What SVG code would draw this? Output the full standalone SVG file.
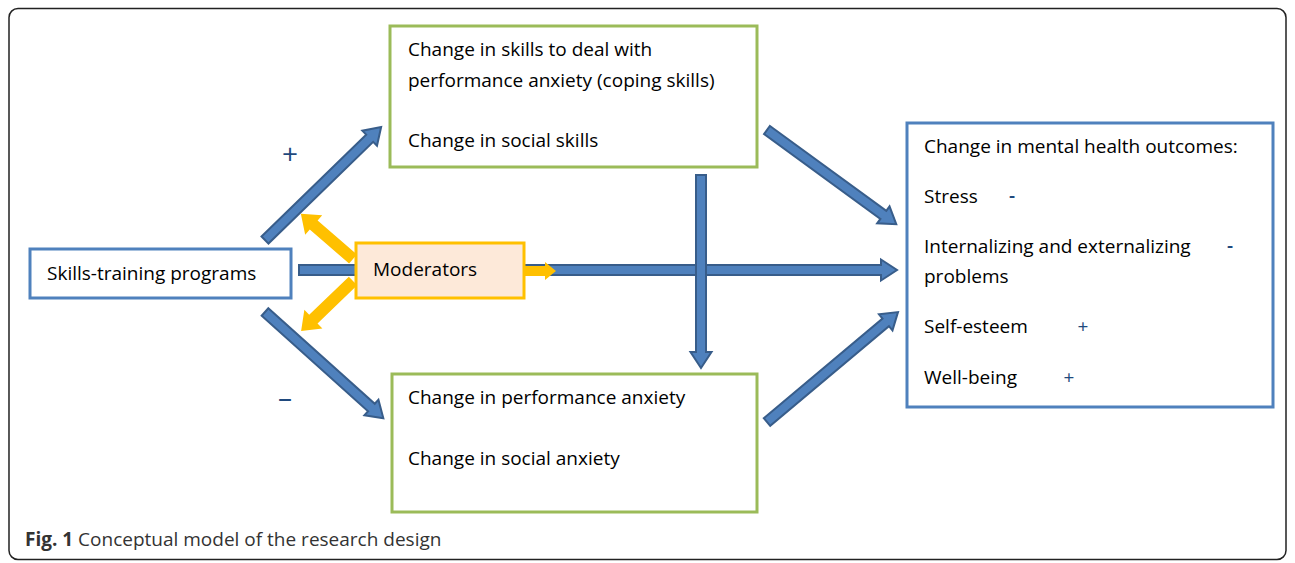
<svg xmlns="http://www.w3.org/2000/svg" width="1295" height="563" viewBox="0 0 1295 563">
<style>
.t{font-family:"Open Sans","Liberation Sans",sans-serif;font-size:19px;fill:#000}
.sign{font-family:"Open Sans","Liberation Sans",sans-serif;font-size:19px;fill:#1F497D;text-anchor:middle;font-weight:600}
.ba{fill:#4F81BD;stroke:#385D8A;stroke-width:2;stroke-linejoin:miter}
.ya{fill:#FFC000;stroke:none}
.gbox{fill:#fff;stroke:#9BBB59;stroke-width:3}
.bbox{fill:#fff;stroke:#4F81BD;stroke-width:3}
</style>
<rect x="9" y="8.5" width="1277" height="551" rx="9" fill="#fff" stroke="#222" stroke-width="1.5"/>
<g id="connectors">
<polygon class="ba" transform="translate(299,270)" points="0,-5 582,-5 582,-10.5 598,0 582,10.5 582,5 0,5"/>
<polygon class="ba" transform="translate(701,175) rotate(90)" points="0,-5 177,-5 177,-10.5 193,0 177,10.5 177,5 0,5"/>
<polygon class="ba" transform="translate(265,240) rotate(-44.2)" points="0,-5 146,-5 146,-10.5 162,0 146,10.5 146,5 0,5"/>
<polygon class="ba" transform="translate(265,312) rotate(41.9)" points="0,-5 143,-5 143,-10.5 159,0 143,10.5 143,5 0,5"/>
<polygon class="ba" transform="translate(767,130) rotate(36.1)" points="0,-5 144,-5 144,-10.5 160,0 144,10.5 144,5 0,5"/>
<polygon class="ba" transform="translate(767,422) rotate(-40)" points="0,-5 155,-5 155,-10.5 171,0 155,10.5 155,5 0,5"/>
<polygon class="ya" transform="translate(353,259) rotate(-139.1)" points="0,-6 52,-6 52,-13 69,0 52,13 52,6 0,6"/>
<polygon class="ya" transform="translate(353,281) rotate(136.1)" points="0,-6 55,-6 55,-13 72,0 55,13 55,6 0,6"/>
<polygon class="ya" transform="translate(524,271)" points="0,-5 21,-5 21,-9 32,0 21,9 21,5 0,5"/>
</g>
<g id="skills-training">
<rect class="bbox" x="30" y="249" width="261" height="49" stroke-width="2.5"/>
<text class="t" x="47" y="280">Skills-training programs</text>
</g>
<g id="moderators">
<rect x="356" y="243" width="168" height="55" fill="#FDE9D9" stroke="#FFC000" stroke-width="3"/>
<text class="t" x="373" y="276">Moderators</text>
</g>
<g id="skills-change">
<rect class="gbox" x="390" y="26" width="367" height="141"/>
<text class="t" x="408" y="56">Change in skills to deal with</text>
<text class="t" x="408" y="87">performance anxiety (coping skills)</text>
<text class="t" x="408" y="147">Change in social skills</text>
</g>
<g id="anxiety-change">
<rect class="gbox" x="392" y="374" width="365" height="138"/>
<text class="t" x="408" y="404">Change in performance anxiety</text>
<text class="t" x="408" y="465">Change in social anxiety</text>
</g>
<g id="outcomes">
<rect class="bbox" x="907" y="123" width="366" height="284"/>
<text class="t" x="924" y="153">Change in mental health outcomes:</text>
<text class="t" x="924" y="203">Stress</text>
<text class="sign" x="1012" y="202">-</text>
<text class="t" x="924" y="253">Internalizing and externalizing</text>
<text class="sign" x="1230" y="252">-</text>
<text class="t" x="924" y="283">problems</text>
<text class="t" x="924" y="333">Self-esteem</text>
<text class="sign" x="1083" y="333" style="font-weight:normal">+</text>
<text class="t" x="924" y="384">Well-being</text>
<text class="sign" x="1069" y="384" style="font-weight:normal">+</text>
</g>
<g id="signs">
<text class="sign" x="290" y="164" style="font-size:28px;font-weight:normal">+</text>
<text class="sign" x="285" y="407" style="font-size:28px;font-weight:normal">–</text>
</g>
<g id="caption">
<text x="25" y="546" font-family="'Open Sans','Liberation Sans',sans-serif" font-size="19" fill="#333"><tspan font-weight="bold">Fig. 1</tspan> Conceptual model of the research design</text>
</g>
</svg>
